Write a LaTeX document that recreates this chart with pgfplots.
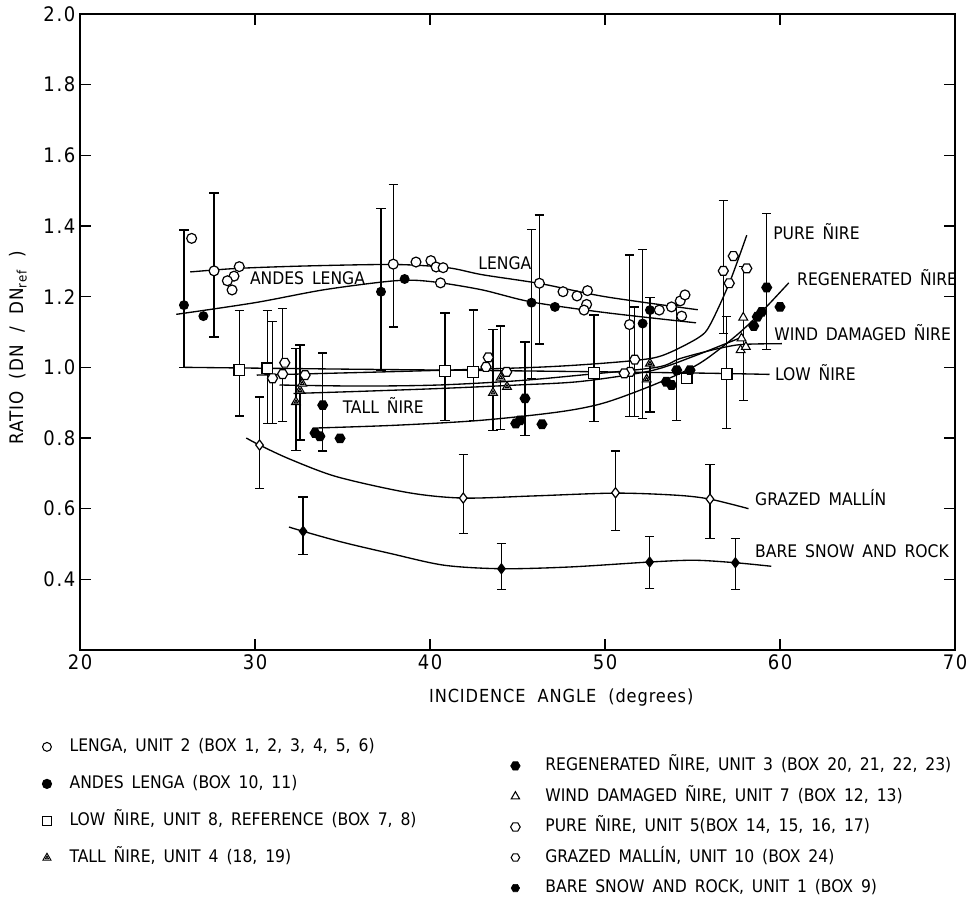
\documentclass[border=0pt]{standalone}
\usepackage{pgfplots}
\pgfplotsset{compat=1.18}
\usepackage{fontspec}
\setmainfont{DejaVu Sans Condensed}
\newfontfamily\legfont{DejaVu Sans Condensed}[WordSpace=1.6]
\newfontfamily\labfont{DejaVu Sans Condensed}[WordSpace=2, LetterSpace=5]
\newfontfamily\tickfont{DejaVu Sans Condensed}[LetterSpace=8]
\pgfdeclareplotmark{hexagon}{%
  \pgfpathmoveto{\pgfpointpolar{0}{\pgfplotmarksize}}%
  \pgfpathlineto{\pgfpointpolar{60}{\pgfplotmarksize}}%
  \pgfpathlineto{\pgfpointpolar{120}{\pgfplotmarksize}}%
  \pgfpathlineto{\pgfpointpolar{180}{\pgfplotmarksize}}%
  \pgfpathlineto{\pgfpointpolar{240}{\pgfplotmarksize}}%
  \pgfpathlineto{\pgfpointpolar{300}{\pgfplotmarksize}}%
  \pgfpathclose\pgfusepathqfillstroke}
\pgfdeclareplotmark{tridot}{%
  \pgfpathmoveto{\pgfpointpolar{90}{\pgfplotmarksize}}%
  \pgfpathlineto{\pgfpointpolar{210}{\pgfplotmarksize}}%
  \pgfpathlineto{\pgfpointpolar{330}{\pgfplotmarksize}}%
  \pgfpathclose\pgfusepathqfillstroke
  \pgfpathmoveto{\pgfpointpolar{90}{0.4\pgfplotmarksize}}%
  \pgfpathlineto{\pgfpointpolar{210}{0.4\pgfplotmarksize}}%
  \pgfpathlineto{\pgfpointpolar{330}{0.4\pgfplotmarksize}}%
  \pgfpathclose\pgfusepathqstroke}
\begin{document}
\begin{tikzpicture}
\useasboundingbox (0,0) rectangle (726pt,678pt);
\begin{axis}[
  at={(60pt,190.5pt)}, anchor=south west,
  scale only axis, width=656.25pt, height=477pt,
  xmin=20, xmax=70, ymin=0.2, ymax=2.0,
  xtick={20,30,...,70},
  ytick={0.4,0.6,...,2.0},
  yticklabel style={/pgf/number format/.cd, fixed, fixed zerofill, precision=1},
  /pgf/number format/assume math mode=true,
  tick label style={font=\tickfont\fontsize{15}{17}\selectfont},
  major tick length=8pt,
  axis line style={line width=1pt},
  tick style={line width=0.9pt, black},
  clip=false,
  xlabel={INCIDENCE ANGLE (degrees)},
  ylabel={RATIO (DN / DN\textsubscript{ref} )},
  every axis x label/.style={at={(axis description cs:0.55,-0.074)}, anchor=center, font=\labfont\fontsize{13.5}{15}\selectfont},
  every axis y label/.style={at={(axis description cs:-0.071,0.475)}, rotate=90, anchor=center, font=\labfont\fontsize{14}{16}\selectfont},
  legend style={draw=none, fill=none, at={(-0.0434,-0.1341)}, anchor=north west,
    font=\legfont\fontsize{13}{15}\selectfont, row sep=10.75pt, inner sep=0pt,
    nodes={inner sep=2pt, text height=10pt, text depth=3pt}},
  legend cell align=left,
  legend image code/.code={\path[draw=none, fill=none] (-3.5pt,0pt) -- (15pt,0pt); \draw[#1] plot coordinates {(0pt,0pt)};},
]
% ---------- error bars ----------
\addplot[black, only marks, mark=*, mark size=0.4pt, forget plot,
  error bars/.cd, y dir=both, y explicit, error mark=-,
  error bar style={line width=1pt, black},
  error mark options={rotate=90, black, mark size=3.5pt, line width=1pt}]
coordinates {
 (27.66,1.273) += (0,0.220) -= (0,0.187)
 (37.90,1.292) += (0,0.226) -= (0,0.178)
 (46.25,1.238) += (0,0.193) -= (0,0.172)
 (51.40,1.121) += (0,0.197) -= (0,0.261)
 (25.94,1.176) += (0,0.213) -= (0,0.176)
 (37.20,1.214) += (0,0.236) -= (0,0.222)
 (45.80,1.183) += (0,0.207) -= (0,0.214)
 (52.15,1.124) += (0,0.210) -= (0,0.269)
 (29.10,0.992) += (0,0.168) -= (0,0.130)
 (30.70,0.997) += (0,0.163) -= (0,0.156)
 (40.86,0.990) += (0,0.164) -= (0,0.140)
 (42.47,0.987) += (0,0.175) -= (0,0.137)
 (49.37,0.984) += (0,0.164) -= (0,0.138)
 (56.95,0.981) += (0,0.162) -= (0,0.154)
 (32.34,0.902) += (0,0.151) -= (0,0.137)
 (32.57,0.935) += (0,0.128) -= (0,0.141)
 (43.60,0.928) += (0,0.179) -= (0,0.106)
 (44.04,0.971) += (0,0.146) -= (0,0.147)
 (52.57,1.011) += (0,0.187) -= (0,0.137)
 (57.90,1.141) += (0,0.144) -= (0,0.234)
 (31.00,0.969) += (0,0.160) -= (0,0.128)
 (31.58,0.981) += (0,0.186) -= (0,0.135)
 (51.70,1.022) += (0,0.149) -= (0,0.162)
 (56.76,1.273) += (0,0.199) -= (0,0.177)
 (33.87,0.893) += (0,0.148) -= (0,0.130)
 (45.43,0.912) += (0,0.160) -= (0,0.104)
 (54.10,0.992) += (0,0.184) -= (0,0.142)
 (59.24,1.226) += (0,0.210) -= (0,0.175)
 (30.26,0.780) += (0,0.136) -= (0,0.123)
 (41.90,0.630) += (0,0.123) -= (0,0.101)
 (50.60,0.645) += (0,0.118) -= (0,0.106)
 (56.00,0.627) += (0,0.098) -= (0,0.112)
 (32.75,0.536) += (0,0.097) -= (0,0.066)
 (44.08,0.430) += (0,0.071) -= (0,0.058)
 (52.55,0.449) += (0,0.073) -= (0,0.074)
 (57.45,0.447) += (0,0.068) -= (0,0.075)
};
% ---------- fitted curves ----------
\pgfplotsset{every axis plot/.append style={line width=1pt}}
\addplot[black, smooth, forget plot] coordinates {(26.3,1.27) (29,1.28) (33,1.287) (38,1.291) (41,1.282) (43,1.262) (46.3,1.237) (50,1.20) (55.3,1.163)};
\addplot[black, smooth, forget plot] coordinates {(25.5,1.15) (30,1.183) (34,1.22) (38,1.245) (40,1.243) (42.9,1.22) (45.8,1.185) (50,1.155) (55.2,1.126)};
\addplot[black, smooth, forget plot] coordinates {(26,1.0) (35,0.995) (45,0.99) (55,0.984) (59.4,0.98)};
\addplot[black, smooth, forget plot] coordinates {(30.1,0.978) (38,0.988) (46,1.0) (50,1.012) (52.6,1.025) (53.8,1.044) (55.4,1.086) (56,1.12) (57.1,1.238) (58.1,1.374)};
\addplot[black, smooth, forget plot] coordinates {(31.4,0.95) (36,0.947) (40.5,0.95) (45,0.962) (48.6,0.978) (52.95,1.0) (54.3,1.025) (56.2,1.05) (57.5,1.063) (58.5,1.066) (60.1,1.067)};
\addplot[black, smooth, forget plot] coordinates {(32.2,0.926) (36,0.932) (40.5,0.94) (45,0.95) (48.6,0.96) (52.6,0.99) (55,1.03) (57.8,1.085)};
\addplot[black, smooth, forget plot] coordinates {(33.3,0.828) (38,0.836) (42.9,0.85) (47.4,0.874) (50,0.9) (53,0.955) (55.4,1.011) (57.5,1.09) (59,1.16) (60.5,1.239)};
\addplot[black, smooth, forget plot] coordinates {(29.5,0.80) (30.26,0.78) (32,0.74) (34.7,0.69) (38.8,0.645) (41.9,0.63) (45.9,0.636) (50.6,0.644) (54.1,0.638) (56,0.627) (58.2,0.60)};
\addplot[black, smooth, forget plot] coordinates {(31.94,0.548) (32.75,0.536) (35,0.505) (37.75,0.473) (40.8,0.44) (44.08,0.43) (48,0.435) (52.55,0.449) (55.1,0.454) (57.45,0.447) (59.5,0.437)};
% ---------- markers ----------
% lenga
\addplot[only marks, forget plot, mark=*, mark size=3.7pt, mark options={fill=white, draw=black, line width=0.9pt}] coordinates {
 (26.38,1.365) (27.66,1.273) (29.1,1.285) (28.8,1.258) (28.42,1.245) (28.69,1.219)
 (37.9,1.292) (39.2,1.298) (40.05,1.302) (40.35,1.284) (40.75,1.282) (40.6,1.239)
 (46.25,1.238) (47.6,1.214) (48.4,1.202) (49.0,1.217) (48.95,1.178) (48.8,1.162)
 (51.4,1.121) (53.1,1.162) (53.8,1.171) (54.3,1.188) (54.57,1.205) (54.38,1.145)};
% andes lenga
\addplot[only marks, forget plot, mark=*, mark size=3.2pt, mark options={fill=black, draw=black}] coordinates {
 (25.94,1.176) (27.05,1.145) (37.2,1.214) (38.55,1.25) (45.8,1.183) (47.14,1.171) (52.15,1.124) (52.57,1.162)};
% low nire
\addplot[only marks, forget plot, mark=square*, mark size=4pt, mark options={fill=white, draw=black, line width=0.9pt}] coordinates {
 (29.1,0.992) (30.7,0.997) (40.86,0.99) (42.47,0.987) (49.37,0.984) (54.67,0.969) (56.95,0.981)};
% pure nire
\addplot[only marks, forget plot, mark=hexagon, mark size=3.8pt, mark options={fill=white, draw=black, line width=0.9pt}] coordinates {
 (31.7,1.013) (31.58,0.981) (31.0,0.969) (32.86,0.978) (43.33,1.028) (43.2,1.001) (44.38,0.987)
 (51.7,1.022) (51.43,0.987) (51.1,0.983) (56.76,1.273) (57.33,1.315) (57.1,1.238) (58.1,1.28)};
% tall nire
\addplot[only marks, forget plot, mark=tridot, mark size=3.8pt, mark options={fill=white, draw=black, line width=0.8pt}] coordinates {
 (32.34,0.902) (32.57,0.935) (32.7,0.954) (43.6,0.928) (44.04,0.971) (44.4,0.945) (52.38,0.966) (52.57,1.011)};
% wind damaged
\addplot[only marks, forget plot, mark=triangle*, mark size=3.8pt, mark options={fill=white, draw=black, line width=0.8pt}] coordinates {
 (57.9,1.141) (57.8,1.082) (57.75,1.049) (58.05,1.058)};
% regenerated
\addplot[only marks, forget plot, mark=hexagon, mark size=3.6pt, mark options={fill=black, draw=black}] coordinates {
 (33.87,0.893) (33.43,0.814) (33.71,0.805) (34.86,0.799) (45.43,0.912) (44.9,0.841) (45.14,0.85) (46.4,0.839)
 (53.5,0.959) (53.8,0.95) (54.1,0.992) (54.86,0.992) (59.24,1.226) (60.0,1.171) (58.95,1.157) (58.7,1.143) (58.5,1.117)};
% grazed mallin
\addplot[only marks, forget plot, mark=diamond*, mark size=3.8pt, mark options={fill=white, draw=black, line width=0.9pt}] coordinates {
 (30.26,0.78) (41.9,0.63) (50.6,0.645) (56.0,0.627)};
% bare snow and rock
\addplot[only marks, forget plot, mark=diamond*, mark size=3.6pt, mark options={fill=black, draw=black}] coordinates {
 (32.75,0.536) (44.08,0.43) (52.55,0.449) (57.45,0.447)};
% ---------- curve labels ----------
\begin{scope}[every node/.style={font=\legfont\fontsize{13}{15}\selectfont, inner sep=0pt, anchor=west}]
\node at (axis cs:29.7,1.253) {ANDES LENGA};
\node at (axis cs:42.75,1.295) {LENGA};
\node at (axis cs:35.0,0.893) {TALL ÑIRE};
\node at (axis cs:59.6,1.383) {PURE ÑIRE};
\node at (axis cs:60.97,1.255) {REGENERATED ÑIRE};
\node at (axis cs:59.66,1.098) {WIND DAMAGED ÑIRE};
\node at (axis cs:59.7,0.984) {LOW ÑIRE};
\node at (axis cs:58.57,0.632) {GRAZED MALLÍN};
\node at (axis cs:58.57,0.479) {BARE SNOW AND ROCK};
\end{scope}
% ---------- legend (left column) ----------
\addlegendimage{only marks, mark=*, mark size=3.3pt, mark options={fill=white, draw=black, line width=0.8pt}}
\addlegendentry{LENGA, UNIT 2 (BOX 1, 2, 3, 4, 5, 6)}
\addlegendimage{only marks, mark=*, mark size=3.3pt, mark options={fill=black, draw=black}}
\addlegendentry{ANDES LENGA (BOX 10, 11)}
\addlegendimage{only marks, mark=square*, mark size=3.3pt, mark options={fill=white, draw=black, line width=0.8pt}}
\addlegendentry{LOW ÑIRE, UNIT 8, REFERENCE (BOX 7, 8)}
\addlegendimage{only marks, mark=tridot, mark size=3.5pt, mark options={fill=white, draw=black, line width=0.7pt}}
\addlegendentry{TALL ÑIRE, UNIT 4 (18, 19)}
\end{axis}
% ---------- legend (right column) ----------
\begin{axis}[
  at={(60pt,190.5pt)}, anchor=south west,
  scale only axis, width=656.25pt, height=477pt,
  xmin=0, xmax=1, ymin=0, ymax=1, hide axis,
  legend style={draw=none, fill=none, at={(0.4918,-0.164)}, anchor=north west,
    font=\legfont\fontsize{13}{15}\selectfont, row sep=5.9pt, inner sep=0pt,
    nodes={inner sep=2pt, text height=10pt, text depth=3pt}},
  legend cell align=left,
  legend image code/.code={\path[draw=none, fill=none] (-3.5pt,0pt) -- (20.5pt,0pt); \draw[#1] plot coordinates {(0pt,0pt)};},
]
\addplot[draw=none, forget plot] coordinates {(0.5,0.5)};
\addlegendimage{only marks, mark=hexagon, mark size=3.6pt, mark options={fill=black, draw=black}}
\addlegendentry{REGENERATED ÑIRE, UNIT 3 (BOX 20, 21, 22, 23)}
\addlegendimage{only marks, mark=triangle*, mark size=3.6pt, mark options={fill=white, draw=black, line width=0.8pt}}
\addlegendentry{WIND DAMAGED ÑIRE, UNIT 7 (BOX 12, 13)}
\addlegendimage{only marks, mark=hexagon, mark size=3.6pt, mark options={fill=white, draw=black, line width=0.8pt}}
\addlegendentry{PURE ÑIRE, UNIT 5(BOX 14, 15, 16, 17)}
\addlegendimage{only marks, mark=hexagon, mark size=3.2pt, mark options={fill=white, draw=black, line width=0.8pt}}
\addlegendentry{GRAZED MALLÍN, UNIT 10 (BOX 24)}
\addlegendimage{only marks, mark=hexagon, mark size=3.2pt, mark options={fill=black, draw=black}}
\addlegendentry{BARE SNOW AND ROCK, UNIT 1 (BOX 9)}
\end{axis}
\end{tikzpicture}
\end{document}
